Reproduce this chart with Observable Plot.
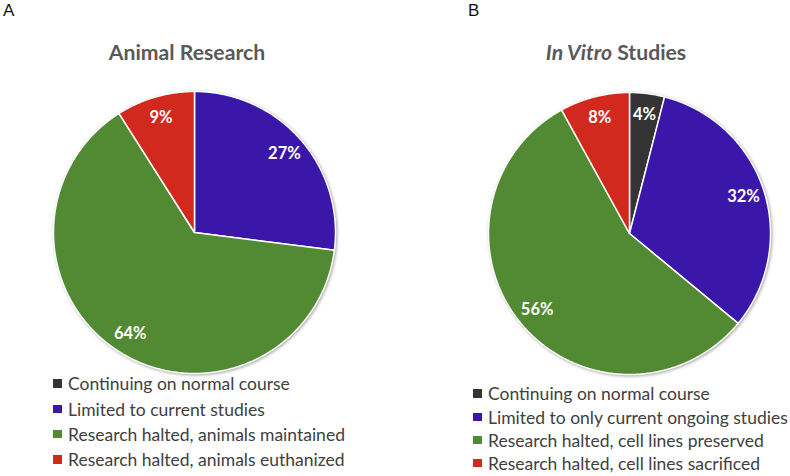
<!DOCTYPE html>
<html><head><meta charset="utf-8">
<script src="https://cdn.jsdelivr.net/npm/d3@7"></script>
<script src="https://cdn.jsdelivr.net/npm/@observablehq/plot@0.6"></script>
<style>
body{margin:0;background:#fff;}
#fig{position:relative;width:790px;height:476px;overflow:hidden;font-family:Lato,"Open Sans",sans-serif;}
.abs{position:absolute;white-space:nowrap;line-height:1;}
.panel{font-family:"Liberation Sans",Arial,sans-serif;font-size:17px;color:#111;}
.title{font-weight:bold;font-size:21.2px;color:#595959;text-align:center;width:400px;}
.leg{font-size:17.5px;color:#404040;}
.sw{position:absolute;width:9px;height:8.5px;}
</style></head>
<body><div id="fig"></div>
<script>
// ---- data ----
const panelLabels = ["A", "B"];
const categoriesA = ["Continuing on normal course", "Limited to current studies", "Research halted, animals maintained", "Research halted, animals euthanized"];
const valuesA = [0, 27, 64, 9];
const categoriesB = ["Continuing on normal course", "Limited to only current ongoing studies", "Research halted, cell lines preserved", "Research halted, cell lines sacrificed"];
const valuesB = [4, 32, 56, 8];
const colors = ["#343434", "#3a17a8", "#528a33", "#d1291e"];

// ---- layout ----
const R = 141, PAD = 8;
const panels = [
  {letter: panelLabels[0], title: "Animal Research", cats: categoriesA, vals: valuesA, cx: 194, cy: 232, titleX: 187, letterX: 3, legX: 53, legY: 375.3, legStep: 25.3},
  {letter: panelLabels[1], title: "<i>In Vitro</i> Studies", cats: categoriesB, vals: valuesB, cx: 629, cy: 232.5, titleX: 616, letterX: 468, legX: 473, legY: 385.3, legStep: 23.2}
];

const fig = document.getElementById("fig");

function pieChart(cats, vals) {
  const arcs = d3.pie().sort(null).value(d => d)(vals);
  const pts = [];
  const labels = [];
  arcs.forEach((a, i) => {
    if (a.value <= 0) return;
    const cat = cats[i];
    pts.push({x: 0, y: 0, cat});
    const n = Math.max(2, Math.ceil((a.endAngle - a.startAngle) / 0.01));
    for (let k = 0; k <= n; k++) {
      const t = a.startAngle + (a.endAngle - a.startAngle) * k / n;
      pts.push({x: Math.sin(t), y: Math.cos(t), cat});
    }
    pts.push({x: 0, y: 0, cat});
    const m = (a.startAngle + a.endAngle) / 2;
    labels.push({x: 0.85 * Math.sin(m), y: 0.85 * Math.cos(m), text: a.value + "%"});
  });
  const size = 2 * R + 2 * PAD;
  const svg = Plot.plot({
    width: size, height: size,
    margin: PAD,
    x: {domain: [-1, 1], axis: null},
    y: {domain: [-1, 1], axis: null},
    color: {domain: cats, range: colors},
    style: {overflow: "visible", background: "transparent"},
    marks: [
      Plot.line(pts, {x: "x", y: "y", z: "cat", fill: "cat", stroke: "white", strokeWidth: 1.5, strokeLinejoin: "round", curve: "linear"}),
      Plot.text(labels, {x: "x", y: "y", text: "text", fill: "white", fontWeight: "bold", fontSize: 16.5, fontFamily: "Lato, sans-serif"})
    ]
  });
  d3.select(svg).select('g[aria-label="line"]').style("filter", "drop-shadow(1px 1.5px 1.5px rgba(0,0,0,0.35))");
  return svg;
}

panels.forEach(p => {
  const svg = pieChart(p.cats, p.vals);
  svg.style.position = "absolute";
  svg.style.left = (p.cx - R - PAD) + "px";
  svg.style.top = (p.cy - R - PAD) + "px";
  fig.appendChild(svg);

  const L = document.createElement("div");
  L.className = "abs panel";
  L.textContent = p.letter;
  L.style.left = p.letterX + "px";
  L.style.top = "2px";
  fig.appendChild(L);

  const T = document.createElement("div");
  T.className = "abs title";
  T.innerHTML = p.title;
  T.style.left = (p.titleX - 200) + "px";
  T.style.top = "42.2px";
  fig.appendChild(T);

  p.cats.forEach((c, i) => {
    const y = p.legY + i * p.legStep;
    const sw = document.createElement("div");
    sw.className = "sw";
    sw.style.background = colors[i];
    sw.style.left = p.legX + "px";
    sw.style.top = (y + 4) + "px";
    fig.appendChild(sw);
    const t = document.createElement("div");
    t.className = "abs leg";
    t.textContent = c;
    t.style.left = (p.legX + 15) + "px";
    t.style.top = y + "px";
    fig.appendChild(t);
  });
});
</script>
</body></html>
